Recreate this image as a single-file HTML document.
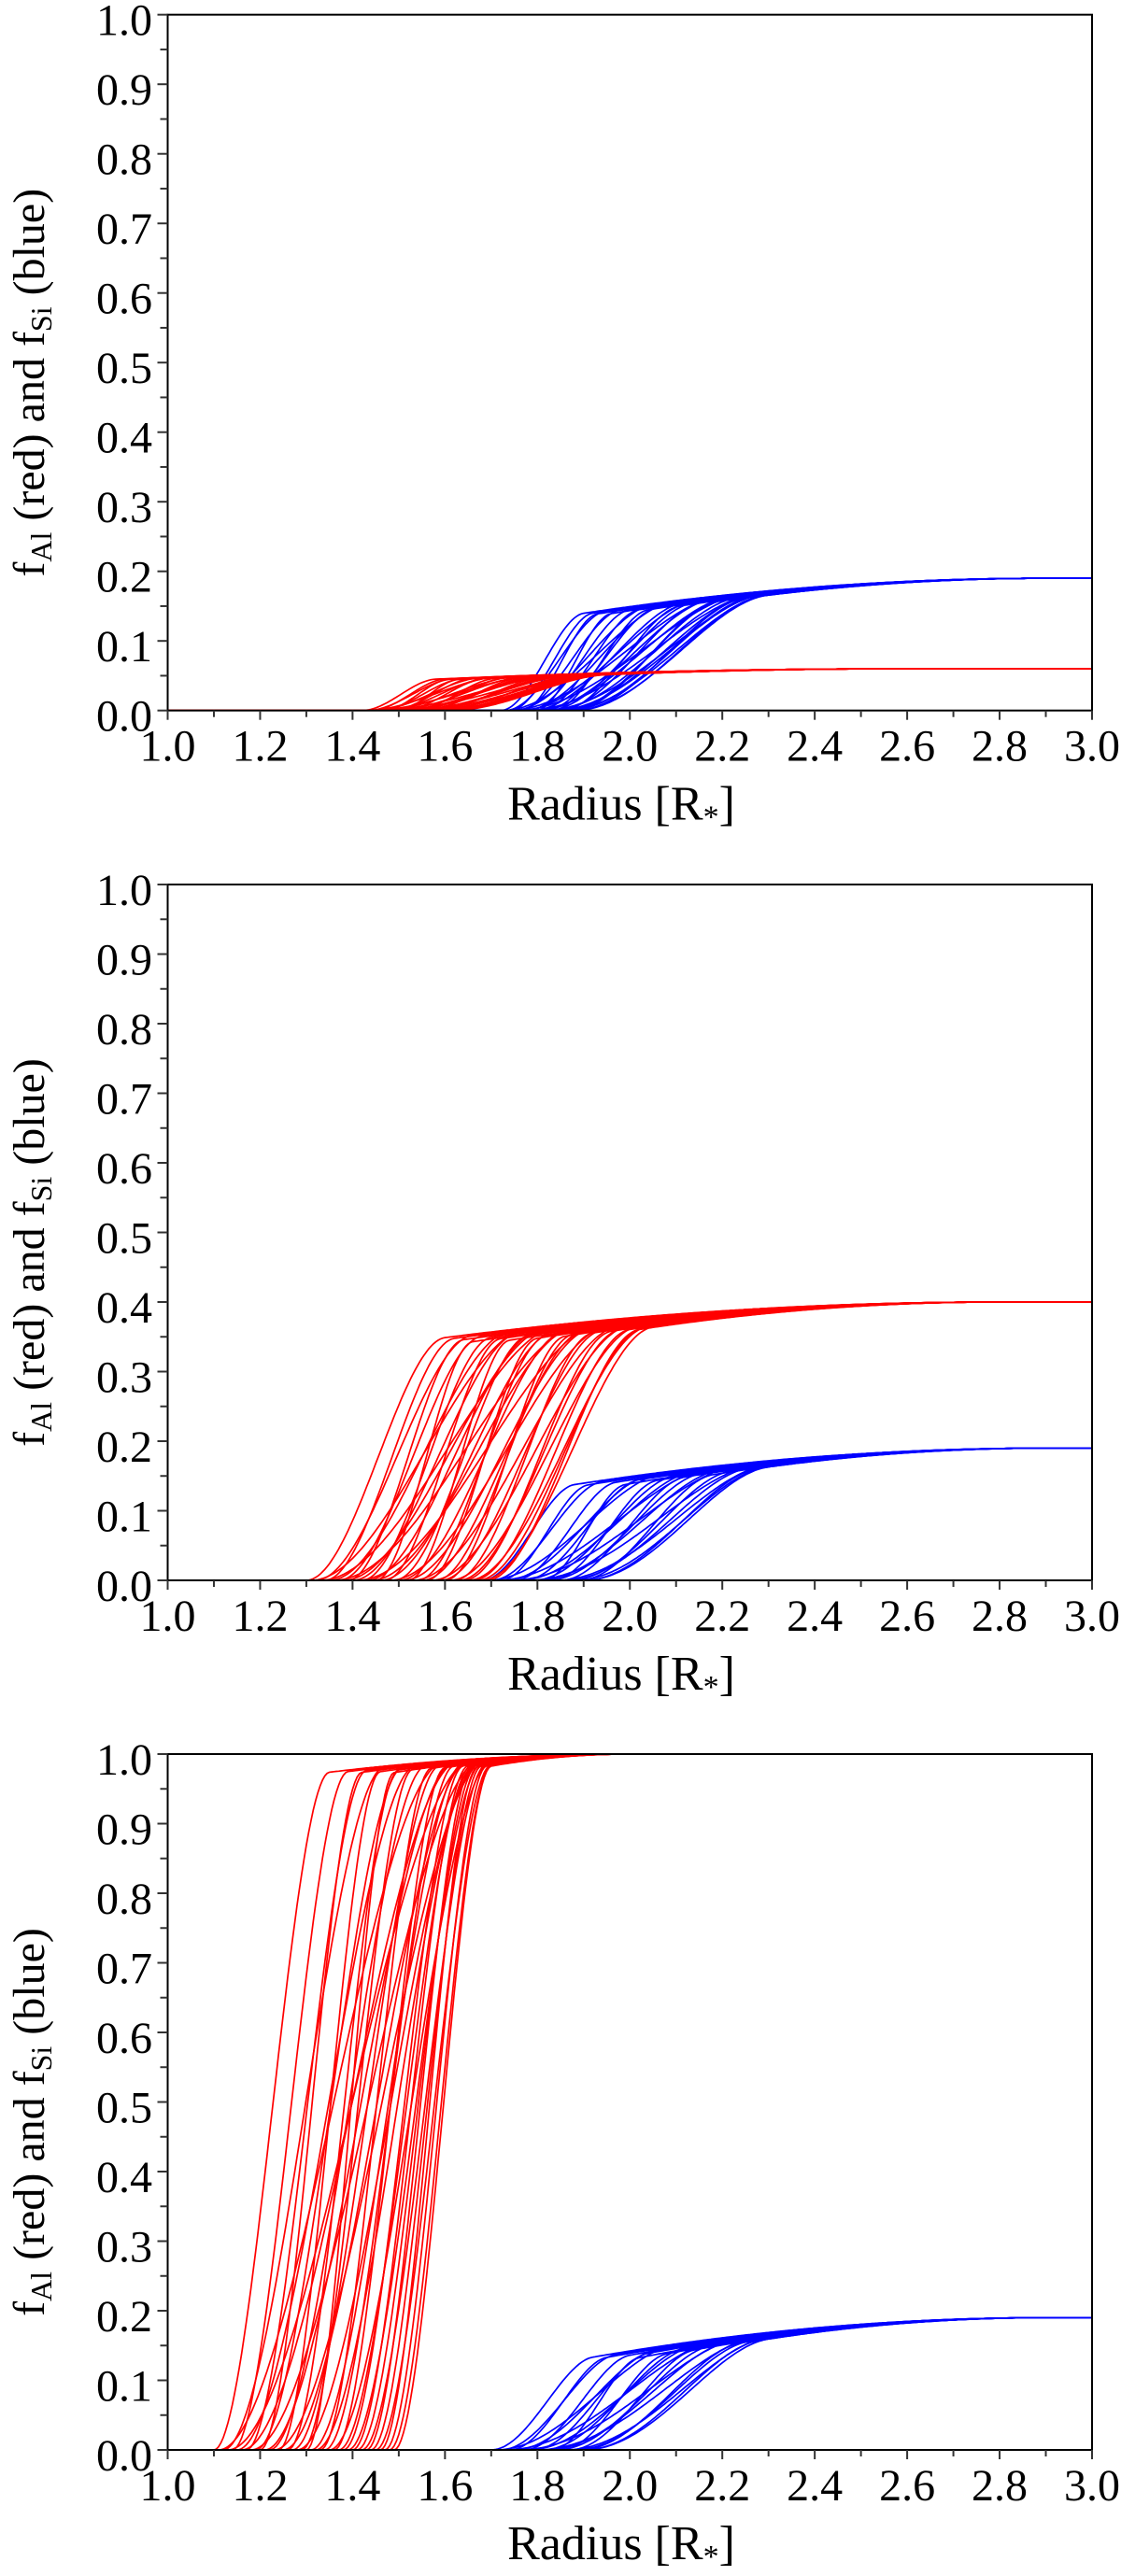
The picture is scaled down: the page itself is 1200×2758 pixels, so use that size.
<!DOCTYPE html>
<html><head><meta charset="utf-8">
<style>
html,body{margin:0;padding:0;background:#fff;}
svg{display:block;}
text{font-family:"Liberation Serif","DejaVu Serif",serif;fill:#000;}
</style></head>
<body>
<svg id="chart" width="1200" height="2758" viewBox="0 0 1200 2758" xmlns="http://www.w3.org/2000/svg" font-family="Liberation Serif, serif"></svg>
<script>
// ---------- DATA ----------
const xTicks = ["1.0","1.2","1.4","1.6","1.8","2.0","2.2","2.4","2.6","2.8","3.0"];
const yTicks = ["0.0","0.1","0.2","0.3","0.4","0.5","0.6","0.7","0.8","0.9","1.0"];

// Panel 1 - Al (red): onset radius, knee radius; levels [knee level, final level, final radius]
const p1RedStart = [1.42,1.425,1.43,1.435,1.44,1.445,1.45,1.455,1.46,1.465,1.47,1.475,1.48,1.485,1.49,1.495,1.50,1.505,1.51,1.515,1.52,1.525,1.53,1.535,1.54,1.545,1.55,1.555,1.56,1.565,1.57,1.575,1.58,1.585,1.59,1.595,1.60,1.60,1.61,1.61];
const p1RedKnee  = [1.58,1.72,1.62,1.80,1.60,1.68,1.86,1.64,1.76,1.61,1.70,1.90,1.66,1.78,1.84,1.63,1.82,1.69,1.92,1.74,1.80,1.88,1.71,1.93,1.79,1.86,1.77,1.94,1.84,1.90,1.82,1.95,1.88,1.93,1.91,1.95,1.92,1.94,1.95,1.93];
const p1RedLevels = [0.04, 0.060, 2.6];
// Panel 1 - Si (blue)
const p1BlueStart = [1.72,1.725,1.73,1.735,1.74,1.745,1.75,1.755,1.76,1.765,1.77,1.775,1.78,1.785,1.79,1.795,1.80,1.805,1.81,1.815,1.82,1.825,1.83,1.835,1.84,1.845,1.85,1.855,1.86,1.865,1.87,1.875,1.88,1.88];
const p1BlueKnee  = [1.90,2.10,1.95,2.20,1.92,2.05,2.25,1.98,2.15,1.93,2.08,2.28,2.00,2.12,2.22,1.96,2.18,2.02,2.30,2.06,2.14,2.24,2.04,2.29,2.16,2.26,2.11,2.30,2.20,2.27,2.19,2.30,2.25,2.29];
const p1BlueLevels = [0.12, 0.19, 2.9];

// Panel 2 - Al (red)
const p2RedStart = [1.30,1.31,1.32,1.33,1.34,1.35,1.36,1.37,1.38,1.39,1.40,1.41,1.42,1.43,1.44,1.45,1.46,1.47,1.48,1.49,1.50,1.51,1.52,1.53,1.54,1.55,1.56,1.57,1.58,1.59,1.60,1.61,1.62,1.63,1.64,1.65,1.66,1.67,1.68,1.69];
const p2RedKnee  = [1.60,1.78,1.66,1.85,1.62,1.74,1.90,1.68,1.82,1.64,1.76,1.94,1.70,1.80,1.88,1.66,1.84,1.72,1.96,1.78,1.86,1.92,1.74,1.98,1.82,1.90,1.80,2.00,1.88,1.94,1.86,2.02,1.92,1.98,1.96,2.04,2.00,2.03,2.05,2.02];
const p2RedLevels = [0.32, 0.40, 2.8];
// Panel 2 - Si (blue)
const p2BlueStart = [1.68,1.69,1.70,1.71,1.72,1.73,1.74,1.75,1.76,1.77,1.78,1.79,1.80,1.81,1.82,1.83,1.84,1.85,1.86,1.87,1.88,1.89,1.90,1.90];
const p2BlueKnee  = [1.88,2.08,1.94,2.18,1.91,2.04,2.24,1.97,2.14,2.02,2.28,2.10,2.20,1.99,2.16,2.06,2.30,2.12,2.26,2.22,2.30,2.18,2.28,2.30];
const p2BlueLevels = [0.115, 0.19, 2.9];

// Panel 3 - Al (red)
const p3RedStart = [1.10,1.11,1.12,1.13,1.14,1.15,1.16,1.17,1.18,1.19,1.20,1.21,1.22,1.23,1.24,1.25,1.26,1.27,1.28,1.29,1.30,1.31,1.32,1.33,1.34,1.35,1.36,1.37,1.38,1.39,1.40,1.41,1.42,1.43,1.44,1.45,1.46,1.47,1.48,1.49];
const p3RedKnee  = [1.35,1.60,1.47,1.66,1.39,1.54,1.63,1.43,1.68,1.51,1.42,1.62,1.56,1.69,1.46,1.65,1.50,1.59,1.68,1.53,1.49,1.64,1.67,1.57,1.62,1.70,1.60,1.66,1.64,1.68,1.65,1.67,1.69,1.66,1.68,1.70,1.67,1.69,1.70,1.70];
const p3RedLevels = [0.95, 1.0, 2.0];
// Panel 3 - Si (blue)
const p3BlueStart = [1.70,1.71,1.72,1.73,1.74,1.75,1.76,1.77,1.78,1.79,1.80,1.81,1.82,1.83,1.84,1.85,1.86,1.87,1.88,1.89,1.90,1.90];
const p3BlueKnee  = [1.92,2.10,1.97,2.20,1.95,2.06,2.25,2.00,2.15,2.04,2.28,2.12,2.22,2.02,2.18,2.08,2.30,2.14,2.26,2.24,2.30,2.28];
const p3BlueLevels = [0.105, 0.19, 2.9];

// ---------- LAYOUT ----------
const NS = "http://www.w3.org/2000/svg";
const svg = document.getElementById("chart");
const L = 179.5, R = 1169, H = 745;
const panelTops = [15.7, 947, 1878];
const FONT = '"Liberation Serif", "DejaVu Serif", serif';

function mk(tag, attrs, parent) {
  const e = document.createElementNS(NS, tag);
  for (const k in attrs) e.setAttribute(k, attrs[k]);
  (parent || svg).appendChild(e);
  return e;
}
function ss(t) { t = Math.max(0, Math.min(1, t)); return t * t * (3 - 2 * t); }
function sat(t) { t = Math.max(0, Math.min(1, t)); return 1 - (1 - t) * (1 - t); }
function curveVal(r, a, b, lv) {
  return lv[0] * ss((r - a) / (b - a)) + (lv[1] - lv[0]) * ss((r - a) / (b - a)) * sat((r - a) / (lv[2] - a));
}

const panels = [
  {red:[p1RedStart,p1RedKnee,p1RedLevels], blue:[p1BlueStart,p1BlueKnee,p1BlueLevels]},
  {red:[p2RedStart,p2RedKnee,p2RedLevels], blue:[p2BlueStart,p2BlueKnee,p2BlueLevels]},
  {red:[p3RedStart,p3RedKnee,p3RedLevels], blue:[p3BlueStart,p3BlueKnee,p3BlueLevels]}
];

panels.forEach((pd, pi) => {
  const T = panelTops[pi], B = T + H;
  const xs = v => L + (v - 1.0) / 2.0 * (R - L);
  const ys = v => B - v * H;
  const g = mk("g", {});
  
  

  const series = [["blue", "#0000ff", pd.blue], ["red", "#ff0000", pd.red]];
  series.forEach(([nm, col, d]) => {
    const sg = mk("g", {}, g);
    
    
    const st = d[0], kn = d[1], lv = d[2];
    for (let i = 0; i < st.length; i++) {
      let p = "";
      for (let k = 0; k <= 400; k++) {
        const r = 1.0 + k * 0.005;
        const v = curveVal(r, st[i], kn[i], lv);
        p += (k ? "L" : "M") + xs(r).toFixed(1) + " " + ys(v).toFixed(1);
      }
      const path = mk("path", {d: p, fill: "none", stroke: col, "stroke-width": 1.7}, sg);
      
      
    }
  });

  const fr = mk("rect", {x: L, y: T, width: R - L, height: H, fill: "none", stroke: "#000", "stroke-width": 2}, g);
  
  

  for (let i = 0; i <= 20; i++) {
    const y = ys(i * 0.05);
    mk("line", {x1: L - (i % 2 ? 8 : 11), x2: L, y1: y, y2: y, stroke: "#333", "stroke-width": 2}, g);
  }
  yTicks.forEach(t => {
    const tx = mk("text", {x: 163, y: ys(parseFloat(t)) + 22, "text-anchor": "end", "font-size": 48, "font-family": FONT}, g);
    tx.textContent = t;
    
    
  });
  for (let i = 0; i <= 20; i++) {
    const x = xs(1.0 + i * 0.1);
    mk("line", {x1: x, x2: x, y1: B, y2: B + (i % 2 ? 7 : 10), stroke: "#333", "stroke-width": 2}, g);
  }
  xTicks.forEach(t => {
    const tx = mk("text", {x: xs(parseFloat(t)), y: B + 54, "text-anchor": "middle", "font-size": 48, "font-family": FONT}, g);
    tx.textContent = t;
    
    
  });

  const xt = mk("text", {x: 665, y: B + 117, "text-anchor": "middle", "font-size": 52, "font-family": FONT}, g);
  
  
  xt.innerHTML = 'Radius [R<tspan font-size="34" dy="8">*</tspan><tspan dy="-8">]</tspan>';

  const yt = mk("text", {x: 0, y: 0, "text-anchor": "middle", "font-size": 48, "font-family": FONT,
    transform: "translate(47," + (T + 394) + ") rotate(-90)"}, g);
  
  
  yt.innerHTML = 'f<tspan font-size="32" dy="8">Al</tspan><tspan dy="-8"> (red) and f</tspan><tspan font-size="32" dy="8">Si</tspan><tspan dy="-8"> (blue)</tspan>';
});
</script>
</body></html>
